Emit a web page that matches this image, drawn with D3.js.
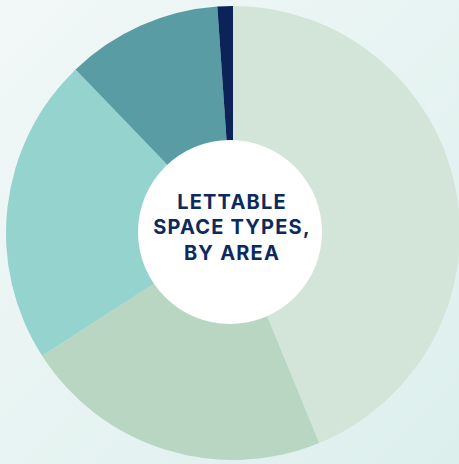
<!DOCTYPE html>
<html>
<head>
<meta charset="utf-8">
<script src="https://cdn.jsdelivr.net/npm/d3@7"></script>
<style>
  html, body { margin: 0; padding: 0; }
  body { width: 459px; height: 464px; overflow: hidden; }
  svg { display: block; }
</style>
</head>
<body>
<svg id="chart" width="459" height="464"></svg>
<script>
// Share of lettable area by space type (percent), clockwise from 12 o'clock
const categories = ["Type A", "Type B", "Type C", "Type D", "Type E"];
const shares = [43.8, 22.1, 21.9, 11.1, 1.1];
const sliceColors = ["#d3e5d9", "#b8d6c1", "#94d3ce", "#5a9ca4", "#0b2358"];
const titleLines = ["LETTABLE", "SPACE TYPES,", "BY AREA"];

const W = 459, H = 464;
const cx = 233, cy = 233, outerR = 227;
const svg = d3.select("#chart");

// soft teal backdrop
const defs = svg.append("defs");
const grad = defs.append("linearGradient")
  .attr("id", "bg").attr("x1", "0").attr("y1", "0").attr("x2", "1").attr("y2", "1");
grad.append("stop").attr("offset", "0").attr("stop-color", "#f2f8f7");
grad.append("stop").attr("offset", "1").attr("stop-color", "#dcefed");
svg.append("rect").attr("width", W).attr("height", H).attr("fill", "url(#bg)");

const data = categories.map((c, i) => ({ category: c, value: shares[i] }));
const color = d3.scaleOrdinal().domain(categories).range(sliceColors);

const pie = d3.pie().value(d => d.value).sort(null);
const arc = d3.arc().innerRadius(0).outerRadius(outerR);

const g = svg.append("g").attr("transform", `translate(${cx},${cy})`);
g.selectAll("path.slice")
  .data(pie(data))
  .join("path")
  .attr("class", "slice")
  .attr("d", arc)
  .attr("fill", d => color(d.data.category));

// white hub with the title
const hub = svg.append("g").attr("transform", `translate(230,232)`);
hub.append("circle").attr("r", 92).attr("fill", "#ffffff");

hub.append("text")
  .attr("text-anchor", "middle")
  .attr("font-family", "Inter, 'Open Sans', sans-serif")
  .attr("font-weight", 700)
  .attr("font-size", 20)
  .attr("letter-spacing", 1.2)
  .attr("fill", "#0d2a5e")
  .selectAll("tspan")
  .data(titleLines)
  .join("tspan")
  .attr("x", 2)
  .attr("y", (d, i) => -23 + i * 25.3)
  .text(d => d);
</script>
</body>
</html>
